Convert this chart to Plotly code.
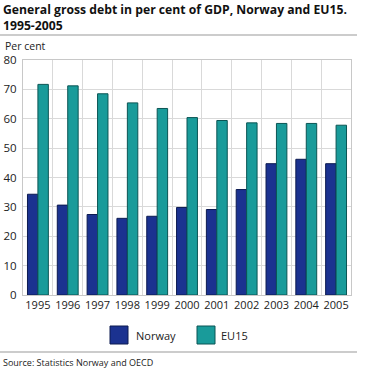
import plotly.graph_objects as go

years = ["1995", "1996", "1997", "1998", "1999", "2000", "2001", "2002", "2003", "2004", "2005"]
norway = [34.3, 30.6, 27.4, 26.1, 26.8, 29.8, 29.1, 35.9, 44.7, 46.2, 44.7]
eu15 = [71.7, 71.2, 68.5, 65.4, 63.5, 60.4, 59.4, 58.6, 58.4, 58.4, 57.8]
y_ticks = [0, 10, 20, 30, 40, 50, 60, 70, 80]

FONT = "Open Sans"
C_NOR = "#1b3290"
C_EU = "#199b9a"

L, R, T, B = 23, 14, 60, 74
W, H = 365, 369
PW, PH = W - L - R, H - T - B

def px_x(px):
    return (px - L) / PW

def px_y(py):
    return (H - B - py) / PH

fig = go.Figure()
fig.add_trace(go.Bar(x=years, y=norway, name="Norway", marker=dict(color=C_NOR, line=dict(color="#0c1a50", width=1))))
fig.add_trace(go.Bar(x=years, y=eu15, name="EU15", marker=dict(color=C_EU, line=dict(color="#0b5554", width=1))))

fig.update_layout(
    width=W, height=H,
    margin=dict(l=L, r=R, t=T, b=B, pad=0, autoexpand=False),
    paper_bgcolor="white", plot_bgcolor="white",
    barmode="group", bargap=0.3, bargroupgap=0,
    showlegend=False,
    font=dict(family=FONT, size=11, color="#222"),
    xaxis=dict(type="category", tickson="boundaries", showgrid=True, gridcolor="#d9d9d9",
               ticks="", showline=True, linecolor="#c8c8c8", mirror=True, tickangle=0,
               automargin=False, tickfont=dict(size=11, color="#222")),
    yaxis=dict(range=[0, 80], tickvals=y_ticks, showgrid=True, gridcolor="#d9d9d9",
               showline=True, linecolor="#c8c8c8", mirror=True, zeroline=False,
               automargin=False, ticks="", ticklabelstandoff=3, tickfont=dict(size=11.5, color="#222")),
)

anns = [
    dict(text="<b>General gross debt in per cent of GDP, Norway and EU15.</b>", x=px_x(1), y=px_y(9), font=dict(size=12.2, color="#111")),
    dict(text="<b>1995-2005</b>", x=px_x(1), y=px_y(25.5), font=dict(size=12.2, color="#111")),
    dict(text="Per cent", x=px_x(3), y=px_y(45.5), font=dict(size=10.5, color="#222")),
    dict(text="Norway", x=px_x(134), y=px_y(335), font=dict(size=11, color="#222")),
    dict(text="EU15", x=px_x(219), y=px_y(335), font=dict(size=11, color="#222")),
    dict(text="Source: Statistics Norway and OECD", x=px_x(1), y=px_y(362), font=dict(size=9, color="#222")),
]
for a in anns:
    fig.add_annotation(xref="paper", yref="paper", xanchor="left", yanchor="middle", showarrow=False, **a)

shapes = [
    dict(type="line", x0=px_x(0), x1=px_x(357), y0=px_y(35), y1=px_y(35), line=dict(color="#999", width=1)),
    dict(type="line", x0=px_x(0), x1=px_x(357), y0=px_y(352), y1=px_y(352), line=dict(color="#999", width=1)),
    dict(type="rect", x0=px_x(110), x1=px_x(128), y0=px_y(326), y1=px_y(344), fillcolor=C_NOR, line=dict(color="#0c1a50", width=1)),
    dict(type="rect", x0=px_x(197), x1=px_x(215), y0=px_y(326), y1=px_y(344), fillcolor=C_EU, line=dict(color="#0b5554", width=1)),
]
for s in shapes:
    fig.add_shape(xref="paper", yref="paper", **s)

fig.write_html("out.html", config={"displayModeBar": False},
               post_script="document.body.style.margin='0';document.body.style.overflow='hidden';")
